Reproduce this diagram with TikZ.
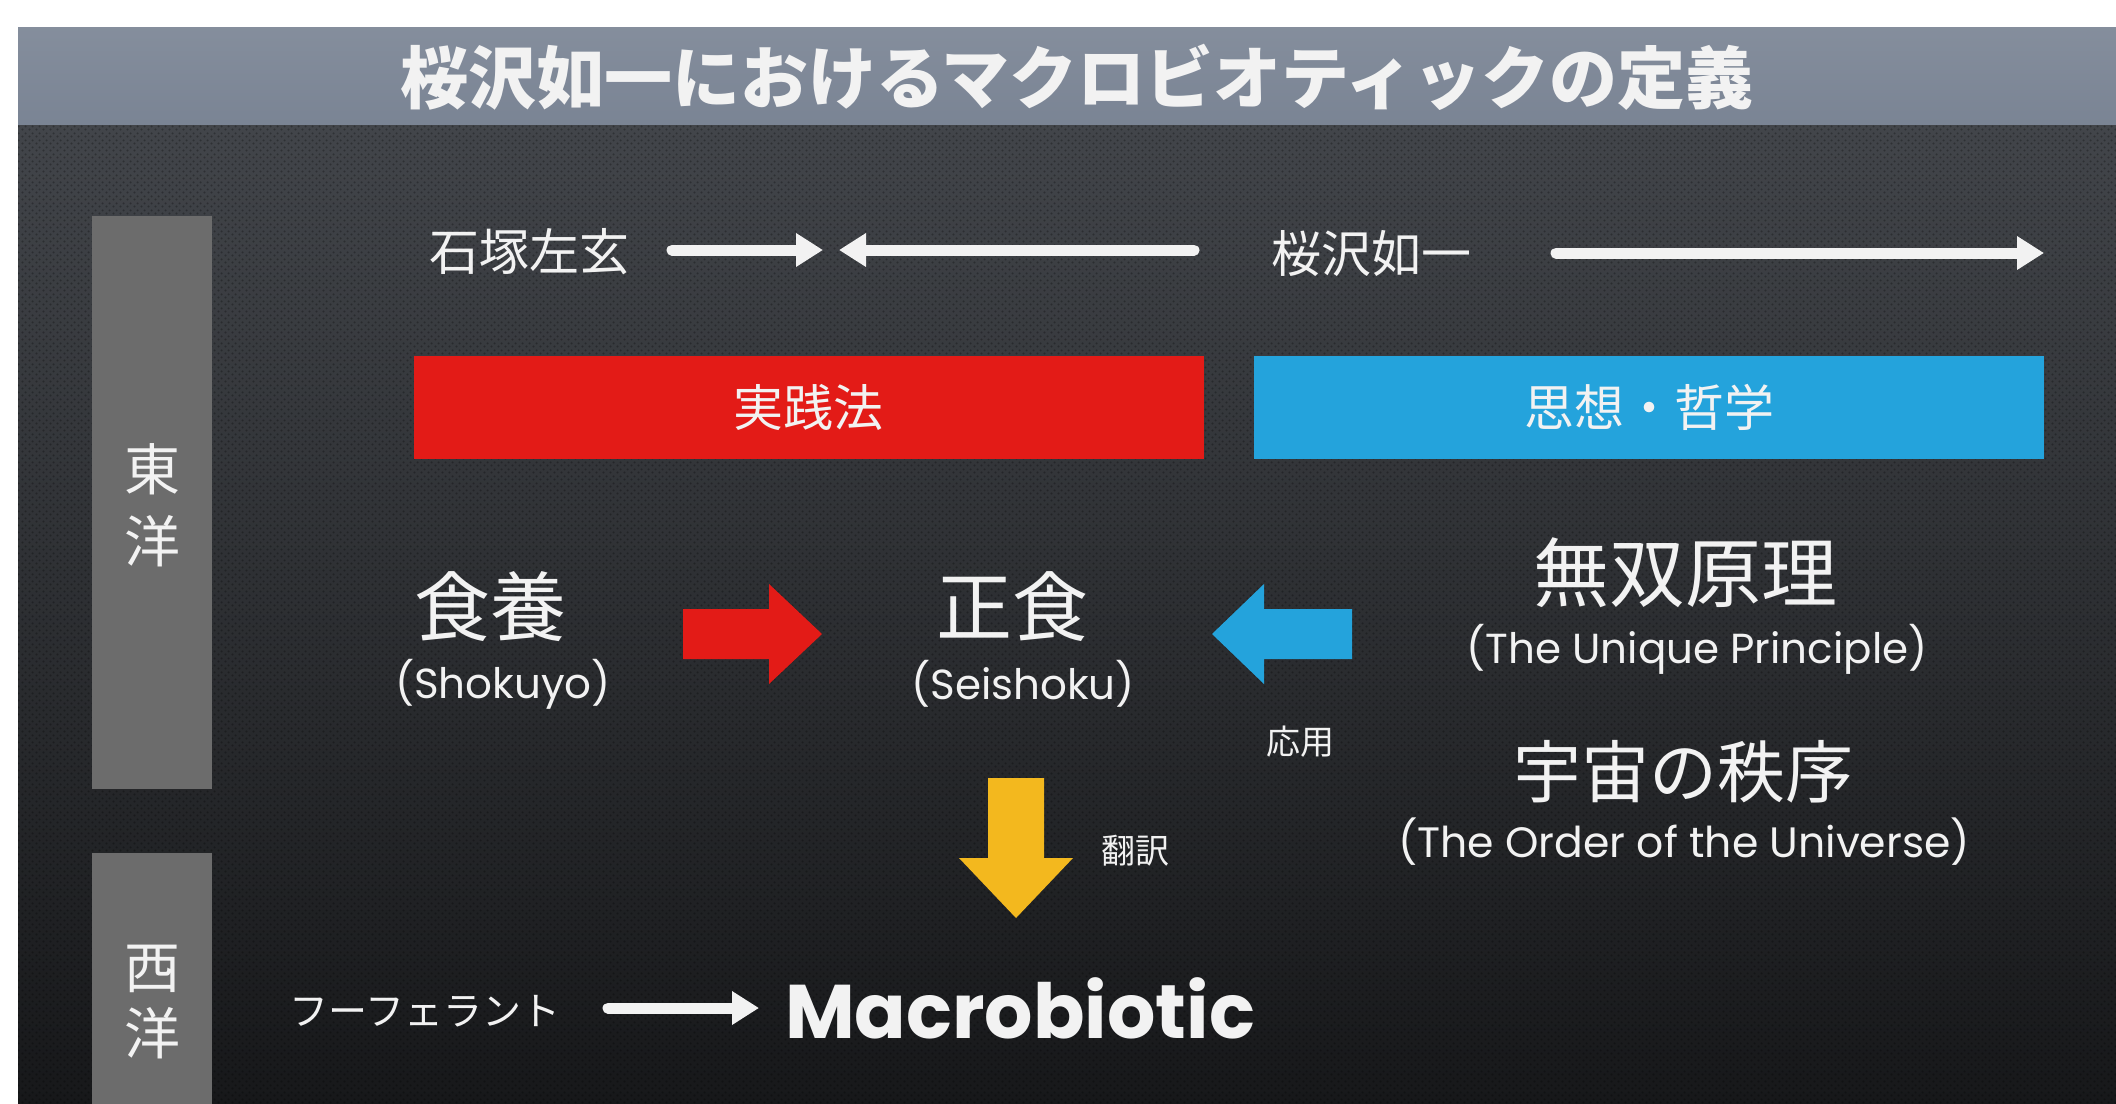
\documentclass[tikz,border=0pt]{standalone}
\usepackage{fontspec}
\newfontfamily\jp{Noto Sans CJK JP}
\newfontfamily\en{Poppins}
\usetikzlibrary{arrows.meta,patterns.meta}
\definecolor{titlebar}{HTML}{7A8494}
\definecolor{bgtop}{HTML}{42454A}
\definecolor{bgbot}{HTML}{17181A}
\definecolor{sidebox}{HTML}{6C6C6C}
\definecolor{redbox}{HTML}{E31B17}
\definecolor{bluebox}{HTML}{24A3DC}
\definecolor{yel}{HTML}{F3B81E}
\definecolor{txt}{HTML}{F2F2F2}
\newcommand{\fsz}[1]{\fontsize{#1pt}{#1pt}\selectfont}
\tikzdeclarepattern{
  name=perfdots,
  type=uncolored,
  bounding box={(0pt,0pt) and (7pt,7pt)},
  tile size={(7pt,7pt)},
  code={\fill (1.75pt,1.75pt) circle (1.3pt); \fill (5.25pt,5.25pt) circle (1.3pt);}
}
\tikzset{
  lbl/.style={inner sep=0pt, text=txt, font=\jp},
  sub/.style={inner sep=0pt, text=txt, font=\en},
  sidebox/.style={fill=sidebox, inner sep=0pt, minimum width=120pt},
  colbox/.style={inner sep=0pt, minimum width=790pt, minimum height=103pt, text=txt, font=\jp\fsz{50}},
  warrow/.style={draw=txt, line width=11pt, line cap=round, -{Triangle[length=27pt,width=32pt]}}
}
\begin{document}
\begin{tikzpicture}[x=1pt,y=-1pt]
\useasboundingbox (0,0) rectangle (2116,1103);
\fill[white] (0,0) rectangle (2116,1103);
% dark background
\shade[top color=bgtop, bottom color=bgbot] (18,124) rectangle (2116,1103);
\fill[pattern=perfdots, pattern color=black, opacity=0.28] (18,124) rectangle (2116,1103);
% title bar
\shade[top color=titlebar!92!white, bottom color=titlebar] (18,27) rectangle (2116,124);
\node[lbl, font=\jp\bfseries\fsz{68}] (title) at (1077,77) {桜沢如一におけるマクロビオティックの定義};

% side boxes
\node[sidebox, minimum height=573pt] (east) at (152,502.5) {};
\node[sidebox, minimum height=260pt] (west) at (152,983) {};
\node[lbl, font=\jp\fsz{56}, align=center] (eastlbl) at (152,505) {東\\[16pt]洋};
\node[lbl, font=\jp\fsz{56}, align=center] (westlbl) at (152,1002) {西\\[10pt]洋};

% top row
\node[lbl, font=\jp\fsz{50}] (ishizuka) at (529,252) {石塚左玄};
\node[lbl, font=\jp\fsz{50}] (sakurazawa) at (1371,254) {桜沢如一};
\coordinate (a1s) at (672,250);
\coordinate (a1e) at (823,250);
\coordinate (a2s) at (1194,250);
\coordinate (a2e) at (839,250);
\coordinate (a3s) at (1556,253);
\coordinate (a3e) at (2044,253);
\draw[warrow] (a1s) -- (a1e);
\draw[warrow] (a2s) -- (a2e);
\draw[warrow] (a3s) -- (a3e);

% colour boxes
\node[colbox, fill=redbox] (practice) at (808.5,407.5) {実践法};
\node[colbox, fill=bluebox] (thought) at (1649,407.5) {思想・哲学};

% middle row
\node[lbl, font=\jp\fsz{76}] (shokuyo) at (490,607) {食養};
\node[sub, font=\en\fsz{42}] (shokuyoen) at (503,684) {(Shokuyo)};
\node[lbl, font=\jp\fsz{76}] (seishoku) at (1012,607) {正食};
\node[sub, font=\en\fsz{42}] (seishokuen) at (1023,684) {(Seishoku)};

\fill[redbox] (683,609) -- (769,609) -- (769,584) -- (822,634) -- (769,684) -- (769,659) -- (683,659) -- cycle;
\fill[bluebox] (1352,609) -- (1264,609) -- (1264,584) -- (1212,634) -- (1264,684) -- (1264,659) -- (1352,659) -- cycle;
\fill[yel] (988,778) -- (1044,778) -- (1044,858) -- (1073,858) -- (1016,918) -- (959,858) -- (988,858) -- cycle;

\node[lbl, font=\jp\fsz{34}] (ouyou) at (1300,742) {応用};
\node[lbl, font=\jp\fsz{34}] (honyaku) at (1135,851) {翻訳};

\node[lbl, font=\jp\fsz{76}] (musou) at (1685,573) {無双原理};
\node[sub, font=\en\fsz{42}] (musouen) at (1697,649) {(The Unique Principle)};
\node[lbl, font=\jp\fsz{68}] (uchu) at (1683,772) {宇宙の秩序};
\node[sub, font=\en\fsz{42.5}] (uchuen) at (1684,842) {(The Order of the Universe)};

% bottom row
\node[lbl, font=\jp\fsz{39}] (hufeland) at (425,1011) {フーフェラント};
\node[sub, font=\en\bfseries\fsz{76}] (macro) at (1020,1008) {Macrobiotic};
\coordinate (a4s) at (608,1008);
\coordinate (a4e) at (759,1008);
\draw[warrow] (a4s) -- (a4e);
\end{tikzpicture}
\end{document}
